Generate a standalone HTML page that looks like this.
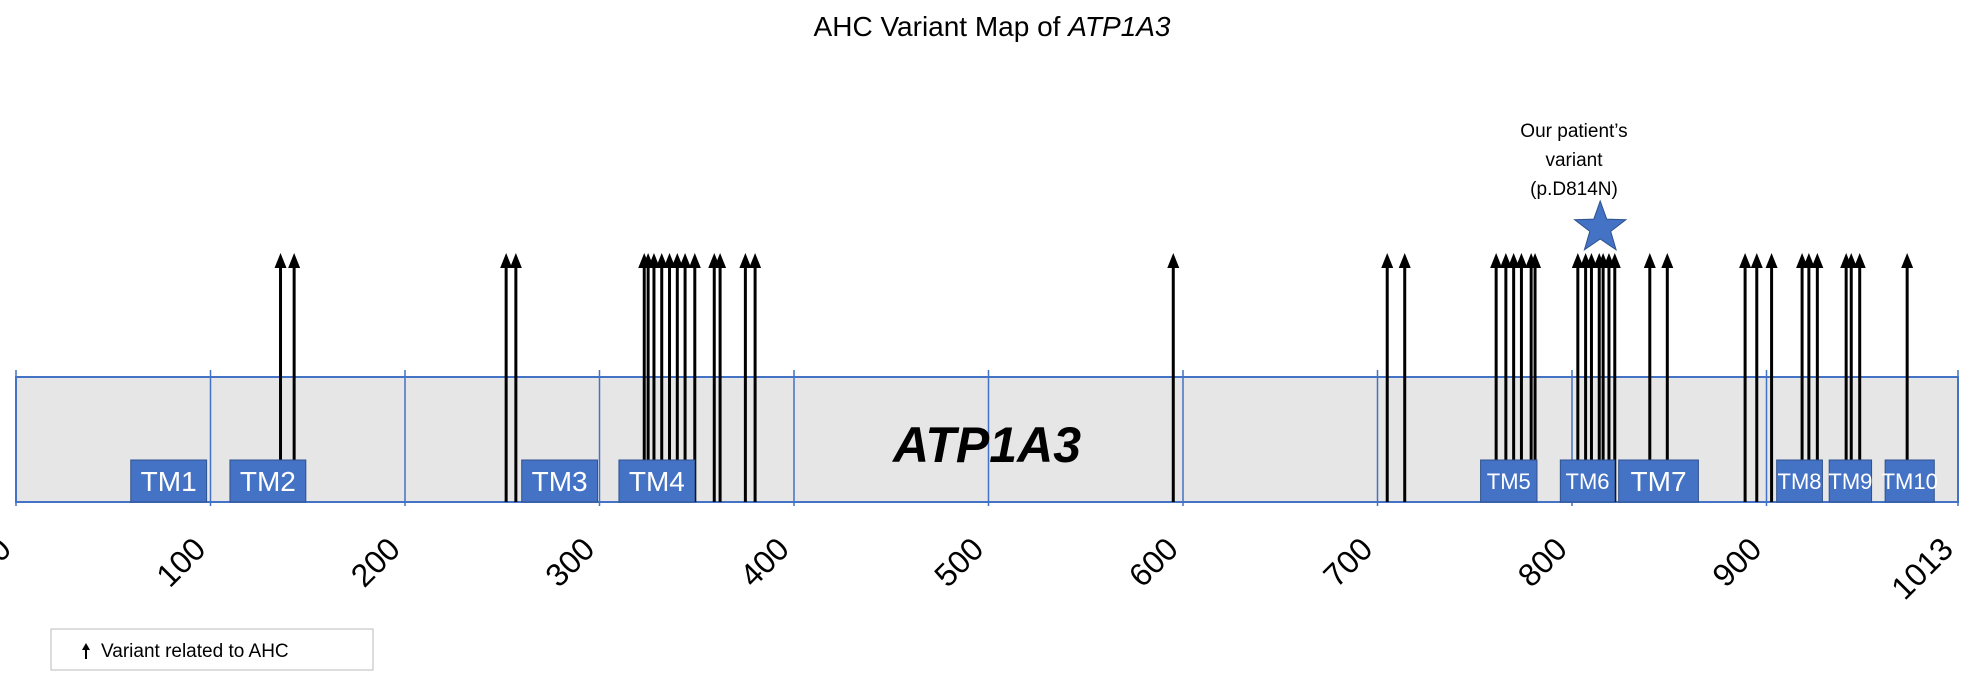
<!DOCTYPE html>
<html><head><meta charset="utf-8"><style>
html,body{margin:0;padding:0;background:#fff;}
svg{display:block;font-family:"Liberation Sans",sans-serif;}
</style></head><body>
<svg id="chart" width="1984" height="676" viewBox="0 0 1984 676">
<text x="992" y="36" text-anchor="middle" font-size="28">AHC Variant Map of <tspan font-style="italic">ATP1A3</tspan></text>
<g id="ticks"></g>
<g id="arrows"></g>
<g id="domains"></g>
<text x="987" y="462" text-anchor="middle" font-size="50" font-weight="bold" font-style="italic">ATP1A3</text>
<g>
<text x="1574" y="137" text-anchor="middle" font-size="19">Our patient’s</text>
<text x="1574" y="166" text-anchor="middle" font-size="19">variant</text>
<text x="1574" y="195" text-anchor="middle" font-size="19">(p.D814N)</text>
<polygon id="star" fill="#4472c4" stroke="#2f528f" stroke-width="1"/>
</g>
<g>
<rect x="51" y="629" width="322" height="41" fill="#fff" stroke="#bbb" stroke-width="1"/>
<line x1="86" y1="659" x2="86" y2="648" stroke="#000" stroke-width="2"/>
<polygon points="82,650 90,650 86,643" fill="#000"/>
<text x="101" y="657" font-size="19">Variant related to AHC</text>
</g>
</svg>
<script>
const tickValues=[0,100,200,300,400,500,600,700,800,900,1013];
const tickLabels=["0","100","200","300","400","500","600","700","800","900","1013"];
const variants=[136,143,252,257,323,325,328,332,336,340,344,349,359,362,375,380,595,705,714,761,766,770,774,779,781,803,807,810,814,816,819,822,840,849,889,895,903,921,925,930,947,950,955,983];
const patientVariant=[814];
const domainNames=["TM1","TM2","TM3","TM4","TM5","TM6","TM7","TM8","TM9","TM10"];
const domainStart=[59,110,260,310,753,794,824,906,937,970];
const domainEnd=[98,149,299,349,782,822,865,933,962,999];
const NS="http://www.w3.org/2000/svg";
function xs(v){ if(v<=900) return 16+v*1.945; return 16+900*1.945+(v-900)*(1958-(16+900*1.945))/113; }
function mk(t,a,p){const e=document.createElementNS(NS,t);for(const k in a)e.setAttribute(k,a[k]);p.appendChild(e);return e;}
const tg=document.getElementById('ticks');
const bar=mk('rect',{x:16,y:377,width:1942,height:125,fill:'#e6e6e6',stroke:'#4472c4','stroke-width':2},tg);


tickValues.forEach((v,i)=>{
  const x=xs(v);
  const l=mk('line',{x1:x,y1:370,x2:x,y2:506,stroke:'#4472c4','stroke-width':1.5},tg);
  
  
  const t=mk('text',{x:x-3,y:551,'text-anchor':'end','font-size':32,transform:`rotate(-45 ${x-3} 551)`},tg);
  t.textContent=tickLabels[i];
  
  
});
const ag=document.getElementById('arrows');
variants.forEach(v=>{
  const x=xs(v);
  const g=mk('g',{},ag);
  
  
  mk('line',{x1:x,y1:264,x2:x,y2:502,stroke:'#000','stroke-width':3},g);
  mk('polygon',{points:`${x-6},${268} ${x+6},${268} ${x},${253}`,fill:'#000'},g);
});
const dg=document.getElementById('domains');
domainNames.forEach((n,i)=>{
  const x0=xs(domainStart[i]),x1=xs(domainEnd[i]);
  const g=mk('g',{},dg);
  
  
  mk('rect',{x:x0,y:460,width:x1-x0,height:42,fill:'#4472c4',stroke:'#2f528f','stroke-width':1},g);
  const fs=(x1-x0)>70?28:22;
  const t=mk('text',{x:(x0+x1)/2,y:481+fs*0.36,'text-anchor':'middle','font-size':fs,fill:'#fff'},g);
  t.textContent=n;
});
const cx=xs(patientVariant[0])+1,cy=228,R=27,r=11;let pts=[];
for(let k=0;k<10;k++){const a=-Math.PI/2+k*Math.PI/5;const rr=k%2?r:R;pts.push((cx+rr*Math.cos(a)).toFixed(1)+','+(cy+rr*Math.sin(a)).toFixed(1));}
document.getElementById('star').setAttribute('points',pts.join(' '));
</script>
</body></html>
